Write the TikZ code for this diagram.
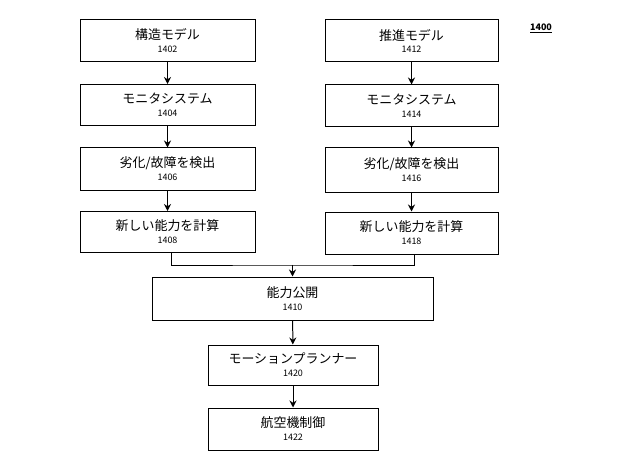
\documentclass[tikz,border=0pt]{standalone}
\usepackage{fontspec}
\newfontfamily\cjk{Noto Sans CJK JP}
\usetikzlibrary{arrows.meta}
\newcommand{\refnum}[1]{\\[-2pt]{\fontsize{9}{10}\selectfont #1}}

\begin{document}
\begin{tikzpicture} [
    x=1bp, y=-1bp, line width=1pt,
    every node/.append style={align=center, font=\cjk\fontsize{13}{15}\selectfont},
    stepbox/.style={draw, inner sep=0pt},
    arr/.style={-{Stealth[length=7pt,width=7pt]}}
  ]
  \useasboundingbox (0,0) rectangle (640,467);

  % left column
  \node [stepbox, minimum width=175bp, minimum height=42bp] (strmodel) at (167.5,41) {構造モデル\refnum{1402}};
  \node [stepbox, minimum width=175bp, minimum height=41bp] (monleft) at (167.5,105) {モニタシステム\refnum{1404}};
  \node [stepbox, minimum width=175bp, minimum height=42bp] (detleft) at (167.5,169) {劣化/故障を検出\refnum{1406}};
  \node [stepbox, minimum width=175bp, minimum height=41bp] (capleft) at (167.5,232) {新しい能力を計算\refnum{1408}};

  % right column
  \node [stepbox, minimum width=173bp, minimum height=42bp] (propmodel) at (411.5,41) {推進モデル\refnum{1412}};
  \node [stepbox, minimum width=173bp, minimum height=42bp] (monright) at (411.5,106) {モニタシステム\refnum{1414}};
  \node [stepbox, minimum width=173bp, minimum height=44bp] (detright) at (411.5,170) {劣化/故障を検出\refnum{1416}};
  \node [stepbox, minimum width=173bp, minimum height=42bp] (capright) at (411.5,233) {新しい能力を計算\refnum{1418}};

  \node [stepbox, minimum width=281bp, minimum height=43bp] (publish) at (292.5,298.5) {能力公開\refnum{1410}};
  \node [stepbox, minimum width=170bp, minimum height=40bp] (planner) at (293,365) {モーションプランナー\refnum{1420}};
  \node [stepbox, minimum width=170bp, minimum height=42bp] (control) at (293,429) {航空機制御\refnum{1422}};

  \node [font=\cjk\bfseries\fontsize{9}{10}\selectfont] (fignum) at (541,28) {\underline{1400}};

  \draw [arr] (strmodel) -- (monleft);
  \draw [arr] (monleft) -- (detleft);
  \draw [arr] (detleft) -- (capleft);
  \draw [arr] (propmodel) -- (monright);
  \draw [arr] (monright) -- (detright);
  \draw [arr] (detright) -- (capright);

  \coordinate (join) at (292.5,265);
  \draw (capleft.south -| 171,0) |- (join) -| (capright.south -| 414,0);
  \draw [arr] (join) -- (publish);
  \draw [arr] (publish) -- (planner);
  \draw [arr] (planner) -- (control);
\end{tikzpicture}
\end{document}
